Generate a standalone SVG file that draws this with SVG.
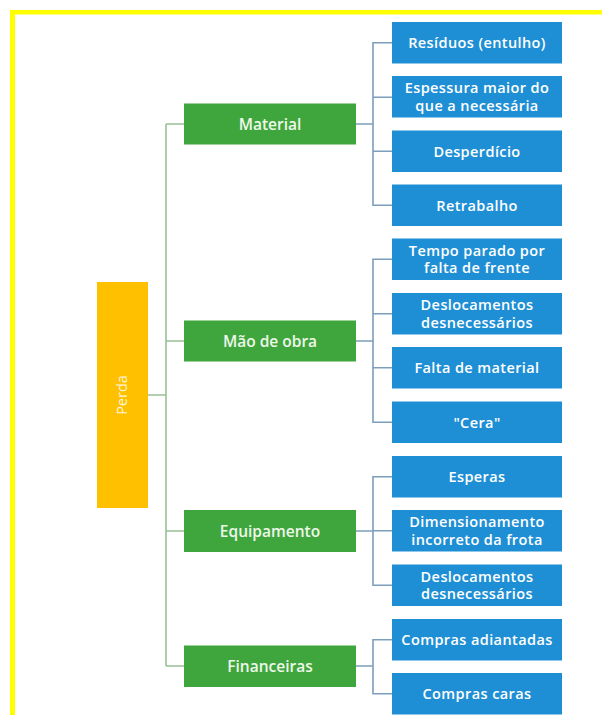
<svg xmlns="http://www.w3.org/2000/svg" width="602" height="715" viewBox="0 0 602 715">
<style>
.blue{fill:#1f8fd5}
.green{fill:#3fa63d}
.orange{fill:#ffc000}
.t{font-family:"Open Sans","Noto Sans",sans-serif;font-weight:600;font-size:14.5px;letter-spacing:0.4px;fill:#ffffff;text-anchor:middle}
.tg{font-family:"Open Sans","Noto Sans",sans-serif;font-weight:600;font-size:15.5px;fill:#eef8ea;text-anchor:middle}
.lg{fill:none;stroke:#97c196;stroke-width:1.6}
.lb{fill:none;stroke:#7d9dbd;stroke-width:1.6}
</style>
<rect x="0" y="0" width="602" height="715" fill="#ffffff"/>
<rect x="10" y="10" width="592" height="4.5" fill="#ffff00"/>
<rect x="10" y="10" width="5" height="705" fill="#ffff00"/>
<g id="connectors">
<path class="lg" d="M148,395H166M166,124V666M166,124H184M166,341H184M166,531H184M166,666H184"/>
<path class="lb" d="M356,124H373M392,42.75H373V205.25H392M373,97.25H392M373,151.25H392"/>
<path class="lb" d="M356,341H373M392,259.25H373V422.25H392M373,313.75H392M373,367.75H392"/>
<path class="lb" d="M356,531H373M392,476.75H373V585.25H392M373,530.75H392"/>
<path class="lb" d="M356,666H373M392,639.75H373V693.75H392"/>
</g>
<g id="perda"><rect class="orange" x="97" y="282" width="51" height="226"/><text style="font-family:'Open Sans','Noto Sans',sans-serif;font-size:14.5px;fill:#fff6dc;text-anchor:middle" transform="translate(127,395) rotate(-90)">Perda</text></g>
<g id="material"><rect class="green" x="184" y="103.5" width="172" height="41"/><text class="tg" x="270" y="129.5">Material</text></g>
<g id="maodeobra"><rect class="green" x="184" y="320.5" width="172" height="41"/><text class="tg" x="270" y="346.5">Mão de obra</text></g>
<g id="equipamento"><rect class="green" x="184" y="510" width="172" height="42"/><text class="tg" x="270" y="536.5">Equipamento</text></g>
<g id="financeiras"><rect class="green" x="184" y="645.5" width="172" height="41.5"/><text class="tg" x="270" y="671.5">Financeiras</text></g>
<g id="b1"><rect class="blue" x="392" y="22" width="170" height="41.5"/><text class="t" x="477" y="48">Resíduos (entulho)</text></g>
<g id="b2"><rect class="blue" x="392" y="76" width="170" height="41.5"/><text class="t" x="477" y="93">Espessura maior do</text><text class="t" x="477" y="110.5">que a necessária</text></g>
<g id="b3"><rect class="blue" x="392" y="130.5" width="170" height="41.5"/><text class="t" x="477" y="156.5">Desperdício</text></g>
<g id="b4"><rect class="blue" x="392" y="184.5" width="170" height="41.5"/><text class="t" x="477" y="210.5">Retrabalho</text></g>
<g id="b5"><rect class="blue" x="392" y="238.5" width="170" height="41.5"/><text class="t" x="477" y="255.5">Tempo parado por</text><text class="t" x="477" y="273">falta de frente</text></g>
<g id="b6"><rect class="blue" x="392" y="293" width="170" height="41.5"/><text class="t" x="477" y="310">Deslocamentos</text><text class="t" x="477" y="327.5">desnecessários</text></g>
<g id="b7"><rect class="blue" x="392" y="347" width="170" height="41.5"/><text class="t" x="477" y="373">Falta de material</text></g>
<g id="b8"><rect class="blue" x="392" y="401.5" width="170" height="41.5"/><text class="t" x="477" y="427.5">"Cera"</text></g>
<g id="b9"><rect class="blue" x="392" y="456" width="170" height="41.5"/><text class="t" x="477" y="482">Esperas</text></g>
<g id="b10"><rect class="blue" x="392" y="510" width="170" height="41.5"/><text class="t" x="477" y="527">Dimensionamento</text><text class="t" x="477" y="544.5">incorreto da frota</text></g>
<g id="b11"><rect class="blue" x="392" y="564.5" width="170" height="41.5"/><text class="t" x="477" y="581.5">Deslocamentos</text><text class="t" x="477" y="599">desnecessários</text></g>
<g id="b12"><rect class="blue" x="392" y="619" width="170" height="41.5"/><text class="t" x="477" y="645">Compras adiantadas</text></g>
<g id="b13"><rect class="blue" x="392" y="673" width="170" height="41.5"/><text class="t" x="477" y="699">Compras caras</text></g>
</svg>
